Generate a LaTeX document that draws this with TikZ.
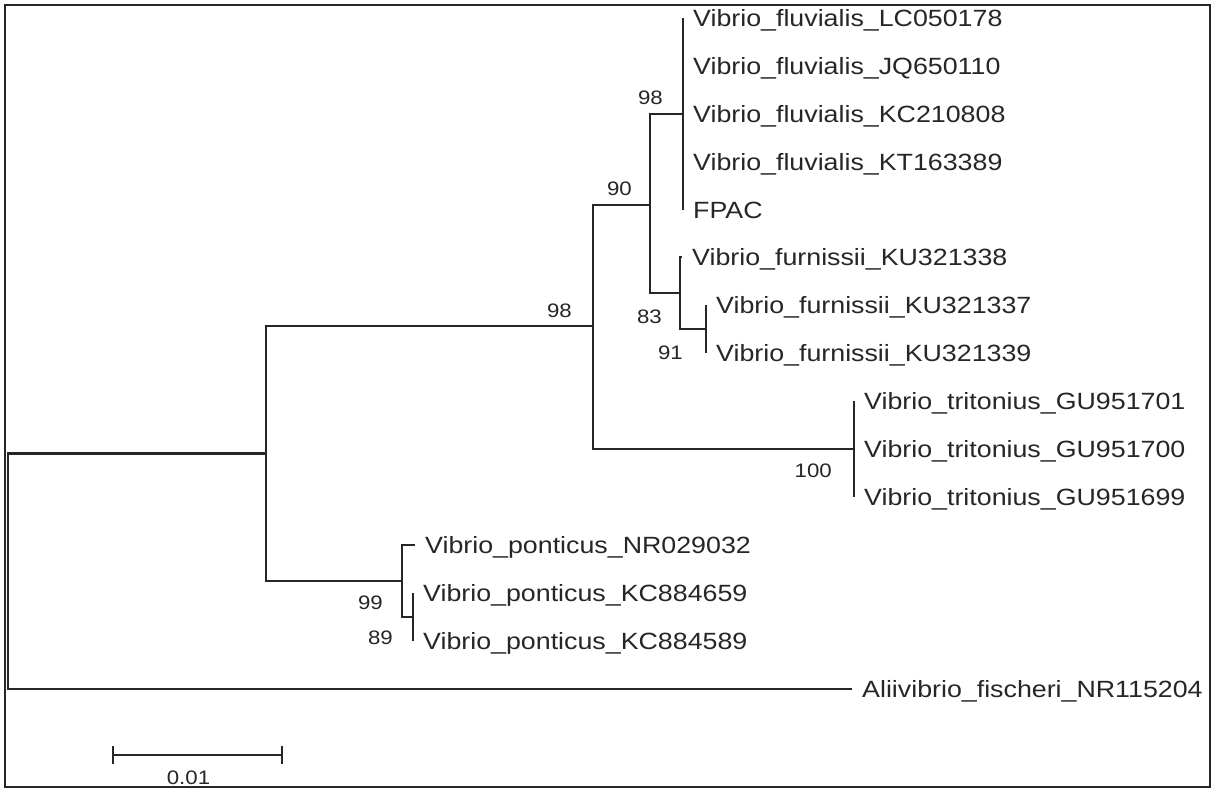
\documentclass[tikz,border=0pt]{standalone}
\usepackage{fontspec}
\usetikzlibrary{positioning}
\newfontfamily\arw{Liberation Sans}[FakeStretch=1.14]
\definecolor{ln}{HTML}{262626}
\tikzset{
  br/.style={draw=ln,line width=2.1pt},
  leaf/.style={anchor=west,inner sep=0pt,text=ln,font=\arw\fontsize{23.5}{26}\selectfont,text height=16.8pt,text depth=0pt},
  boot/.style={inner sep=0pt,text=ln,font=\arw\fontsize{19.5}{22}\selectfont,text height=14pt,text depth=0pt},
}
\begin{document}
\begin{tikzpicture}[x=1pt,y=-1pt]
\useasboundingbox (0,0) rectangle (1214,789);
\draw[ln,line width=2pt] (5,5) rectangle (1210,787);
% inner nodes
\coordinate (nR) at (8,571);
\coordinate (nA) at (266,453.5);
\coordinate (nB) at (593,326);
\coordinate (nC) at (650,205);
\coordinate (nF) at (683,114);
\coordinate (nD) at (680,293);
\coordinate (nE) at (706,329);
\coordinate (nT) at (854,449);
\coordinate (nP) at (402,581);
\coordinate (nQ) at (413,617);
% tips
\foreach \i/\y in {1/18,2/66,3/114,4/162,5/210} \coordinate (l\i) at (683,\y);
\coordinate (l6) at (682,257);
\coordinate (l7) at (706,305);
\coordinate (l8) at (706,353);
\foreach \i/\y in {9/401,10/449,11/497} \coordinate (l\i) at (854,\y);
\coordinate (l12) at (415,545);
\coordinate (l13) at (413,593);
\coordinate (l14) at (413,641);
\coordinate (l15) at (852,689);
% branches
\draw[br] (nR) |- (nA) (nR) |- (l15);
\draw[br] (nA) |- (nB) (nA) |- (nP);
\draw[br] (nB) |- (nC) (nB) |- (nT);
\draw[br] (nC) |- (nF) (nC) |- (nD);
\foreach \i in {1,...,5} \draw[br] (nF) |- (l\i);
\draw[br] (nD) |- (l6) (nD) |- (nE);
\draw[br] (nE) |- (l7) (nE) |- (l8);
\foreach \i in {9,10,11} \draw[br] (nT) |- (l\i);
\draw[br] (nP) |- (l12) (nP) |- (nQ);
\draw[br] (nQ) |- (l13) (nQ) |- (l14);
% tip labels
\foreach \i/\t in {1/LC050178,2/JQ650110,3/KC210808,4/KT163389}
  \node[leaf,right=10pt of l\i] (t\i) {Vibrio\_fluvialis\_\t};
\node[leaf,right=10pt of l5] (t5) {FPAC};
\foreach \i/\t in {6/KU321338,7/KU321337,8/KU321339}
  \node[leaf,right=10pt of l\i] (t\i) {Vibrio\_furnissii\_\t};
\foreach \i/\t in {9/GU951701,10/GU951700,11/GU951699}
  \node[leaf,right=10pt of l\i] (t\i) {Vibrio\_tritonius\_\t};
\foreach \i/\t in {12/NR029032,13/KC884659,14/KC884589}
  \node[leaf,right=10pt of l\i] (t\i) {Vibrio\_ponticus\_\t};
\node[leaf,right=10pt of l15] (t15) {Aliivibrio\_fischeri\_NR115204};
% bootstrap
\node[boot,left=21pt of nB,yshift=16pt] (bB) {98};
\node[boot,left=18pt of nC,yshift=17pt] (bC) {90};
\node[boot,left=20pt of nF,yshift=16pt] (bF) {98};
\node[boot,left=18pt of nD,yshift=-23pt] (bD) {83};
\node[boot,left=23pt of nE,yshift=-23pt] (bE) {91};
\node[boot,left=22pt of nT,yshift=-21pt] (bT) {100};
\node[boot,left=19pt of nP,yshift=-21pt] (bP) {99};
\node[boot,left=20pt of nQ,yshift=-20pt] (bQ) {89};
% scale bar
\coordinate (s1) at (113,755);
\coordinate (s2) at (282,755);
\draw[br] (s1) -- (s2);
\draw[br] ([yshift=9pt]s1) -- ([yshift=-9pt]s1);
\draw[br] ([yshift=9pt]s2) -- ([yshift=-9pt]s2);
\path (s1) -- (s2) node[boot,midway,below=15pt,xshift=-9pt] (sc) {0.01};
\end{tikzpicture}
\end{document}
